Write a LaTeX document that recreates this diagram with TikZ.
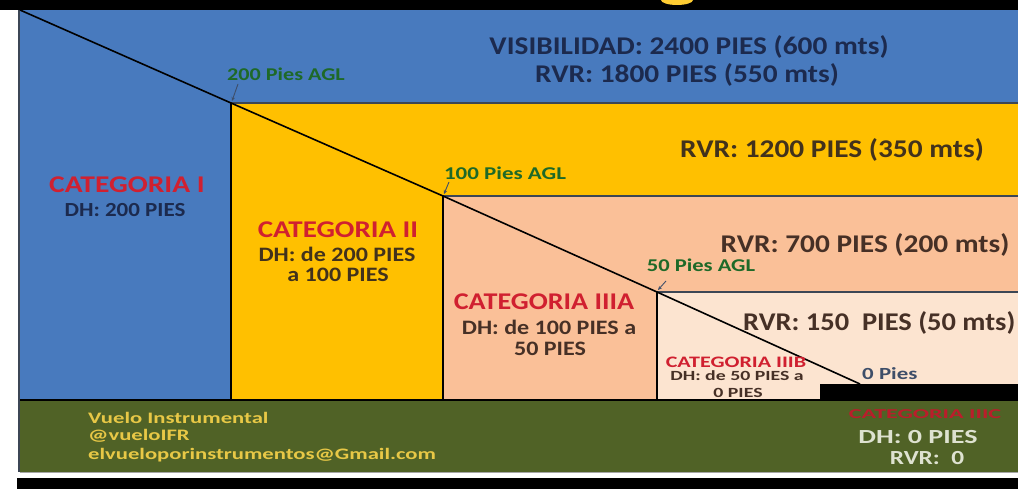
\documentclass[tikz,border=0pt]{standalone}
\usepackage{fontspec}
\setmainfont{Carlito}[FakeStretch=1.15]
\usetikzlibrary{arrows.meta}
\definecolor{cblue}{RGB}{72,122,190}
\definecolor{cyellow}{RGB}{255,192,0}
\definecolor{cpeach}{RGB}{250,192,152}
\definecolor{clight}{RGB}{252,228,208}
\definecolor{cgreen}{RGB}{80,98,38}
\definecolor{csep}{RGB}{60,70,85}
\definecolor{cnavy}{RGB}{28,42,78}
\definecolor{cbrown}{RGB}{66,50,28}
\definecolor{cpbrown}{RGB}{70,48,38}
\definecolor{cred}{RGB}{208,32,48}
\definecolor{cagl}{RGB}{30,105,40}
\definecolor{cgold}{RGB}{232,200,70}
\definecolor{cpale}{RGB}{222,226,208}
\definecolor{cslate}{RGB}{62,78,105}
\newcommand{\fs}[1]{\fontsize{#1}{#1}\selectfont}
\begin{document}
\begin{tikzpicture}[x=1pt,y=-1pt,
  lbl/.style={inner sep=0pt, font=\bfseries},
  sepline/.style={draw=csep, line width=1.3pt},
  vline/.style={draw=black, line width=2.4pt},
  diag/.style={draw=black, line width=1.6pt, line join=round},
  aglarrow/.style={draw=cslate, line width=0.9pt, -{Stealth[length=4pt,width=3.5pt]}}]
\useasboundingbox (0,0) rectangle (1018,489);
\fill[white] (0,0) rectangle (1018,489);
% frame bands
\fill[black] (0,0) rectangle (1018,10);
\fill[black] (17,478) rectangle (1018,489);
\begin{scope}
\clip (0,0) rectangle (1018,10);
\fill[cyellow!80!white] (677,0) ellipse (16pt and 5pt);
\end{scope}
% key points of the approach path
\coordinate (p0) at (20,10);
\coordinate (p1) at (231,103);
\coordinate (p2) at (443,196);
\coordinate (p3) at (657,292);
\coordinate (p4) at (860,384);
% regions
\fill[cblue] (20,10) rectangle (1018,400);
\fill[cyellow] (p1) rectangle (1018,400);
\fill[cpeach] (p2) rectangle (1018,400);
\fill[clight] (p3) rectangle (1018,400);
\fill[black] (820,384) rectangle (1018,400);
\fill[cgreen] (20,400) rectangle (1018,472);
\draw[draw=csep, line width=1.5pt] (19,10) -- (19,472);
\draw[draw=gray!70, line width=1pt] (20,472) -- (1018,472);
% separators
\draw[sepline] (p1) -- (1018,103);
\draw[sepline] (p2) -- (1018,196);
\draw[sepline] (p3) -- (1018,292);
\draw[draw=black, line width=1.5pt] (20,400) -- (1018,400);
\draw[vline] (p1) -- (231,400);
\draw[vline] (p2) -- (443,400);
\draw[vline] (p3) -- (657,400);
\draw[diag] (p0) -- (p1) -- (p2) -- (p3) -- (p4);
% top texts
\node[lbl, text=cnavy, font=\bfseries\fs{25.5}] (vis) at (689,47) {VISIBILIDAD: 2400 PIES (600 mts)};
\node[lbl, text=cnavy, font=\bfseries\fs{25.5}] (rvr1) at (687,75) {RVR: 1800 PIES (550 mts)};
\node[lbl, text=cbrown, font=\bfseries\fs{25.5}] (rvr2) at (832,150) {RVR: 1200 PIES (350 mts)};
\node[lbl, text=cpbrown, font=\bfseries\fs{25.5}] (rvr3) at (865,245) {RVR: 700 PIES (200 mts)};
\node[lbl, text=cpbrown, font=\bfseries\fs{25.5}, xscale=0.97, anchor=west] (rvr4) at (743,323) {RVR: 150\ \ PIES (50 mts)};
% categories
\node[lbl, text=cred, font=\bfseries\fs{24}, xscale=1.07] (c1) at (127,185) {CATEGORIA I};
\node[lbl, text=cnavy, font=\bfseries\fs{20}] (c1d) at (125,210) {DH: 200 PIES};
\node[lbl, text=cred, font=\bfseries\fs{24}, xscale=1.05] (c2) at (338,230) {CATEGORIA II};
\node[lbl, text=cbrown, font=\bfseries\fs{20.5}, xscale=1.02] (c2d) at (337,254) {DH: de 200 PIES};
\node[lbl, text=cbrown, font=\bfseries\fs{20.5}, xscale=1.02] (c2e) at (338,275) {a 100 PIES};
\node[lbl, text=cred, font=\bfseries\fs{24}, xscale=1.02] (c3) at (544,302) {CATEGORIA IIIA};
\node[lbl, text=cpbrown, font=\bfseries\fs{20.5}, xscale=1.02] (c3d) at (549,327) {DH: de 100 PIES a};
\node[lbl, text=cpbrown, font=\bfseries\fs{20.5}, xscale=1.02] (c3e) at (550,349) {50 PIES};
\node[lbl, text=cred, font=\bfseries\fs{16}, xscale=1.2] (c4) at (736,362) {CATEGORIA IIIB};
\node[lbl, text=cpbrown, font=\bfseries\fs{14}, xscale=1.23] (c4d) at (737,376) {DH: de 50 PIES a};
\node[lbl, text=cpbrown, font=\bfseries\fs{14}, xscale=1.23] (c4e) at (738,393) {0 PIES};
\node[lbl, text=cslate, font=\bfseries\fs{17}, xscale=1.17, anchor=west] (z) at (862,374) {0 Pies};
% AGL labels
\node[lbl, text=cagl, font=\bfseries\fs{18}, xscale=1.07] (a200) at (286,74) {200 Pies AGL};
\node[lbl, text=cagl, font=\bfseries\fs{18}, xscale=1.11] (a100) at (505,173) {100 Pies AGL};
\node[lbl, text=cagl, font=\bfseries\fs{18}, xscale=1.09] (a50) at (701,265) {50 Pies AGL};
\coordinate (t200) at (238,84);
\coordinate (t100) at (449,182);
\coordinate (t50) at (666,281);
\draw[aglarrow] (t200) -- ([shift={(1,-2)}]p1);
\draw[aglarrow] (t100) -- ([shift={(1,-2)}]p2);
\draw[aglarrow] (t50) -- ([shift={(1,-2)}]p3);
% footer
\node[lbl, text=cgold, font=\bfseries\fs{16}, xscale=1.23, anchor=west] (f1) at (88,418) {Vuelo Instrumental};
\node[lbl, text=cgold, font=\bfseries\fs{16}, xscale=1.23, anchor=west] (f2) at (88,436) {@vueloIFR};
\node[lbl, text=cgold, font=\bfseries\fs{16}, xscale=1.23, anchor=west] (f3) at (88,455) {elvueloporinstrumentos@Gmail.com};
\node[lbl, text=cred!90!black, font=\bfseries\fs{13.5}, xscale=1.55] (c5) at (925,414) {CATEGORIA IIIC};
\node[lbl, text=cpale, font=\bfseries\fs{20}, xscale=1.22] (c5d) at (918,437) {DH: 0 PIES};
\node[lbl, text=cpale, font=\bfseries\fs{20}, xscale=1.1] (c5e) at (927,458) {RVR:\ \ 0};
\end{tikzpicture}
\end{document}
